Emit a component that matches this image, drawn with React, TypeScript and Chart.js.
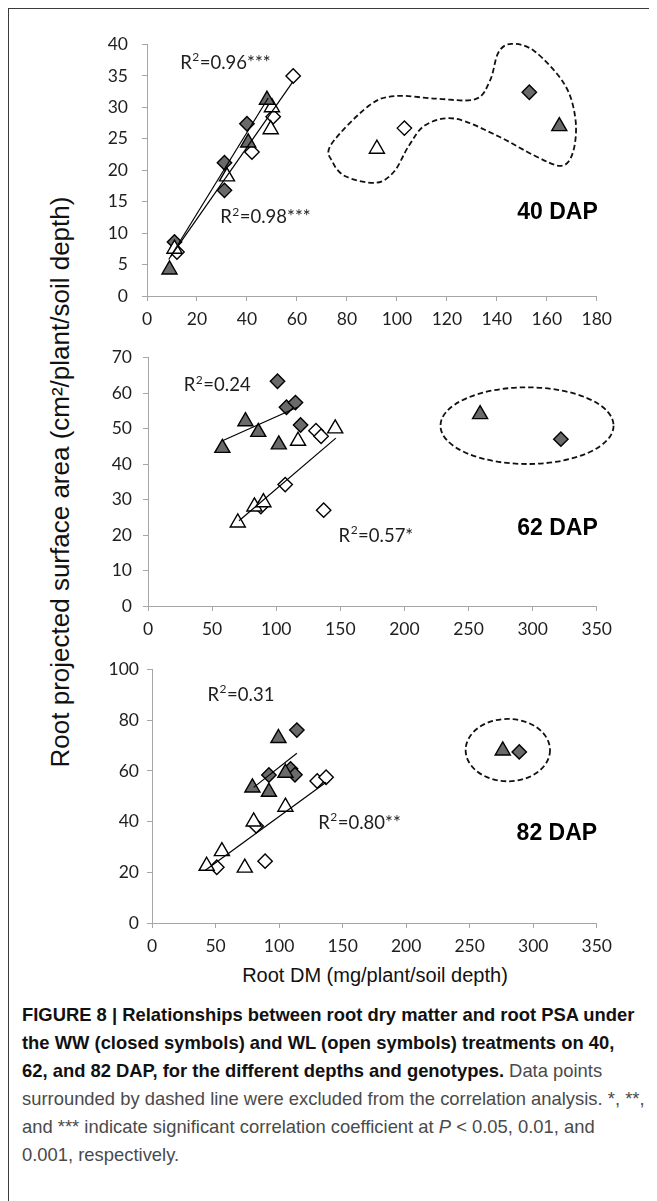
import React, { useEffect, useRef } from "react";
import { Chart, registerables } from "chart.js";

Chart.register(...registerables);

type Pt = { x: number; y: number };

// ---------- 40 DAP ----------
const dap40_wwTriangles: Pt[] = [
  { x: 9, y: 4.2 }, { x: 40.5, y: 24.4 }, { x: 48, y: 31.2 }, { x: 165, y: 27 },
];
const dap40_wwDiamonds: Pt[] = [
  { x: 11, y: 8.6 }, { x: 31, y: 16.8 }, { x: 31, y: 21.2 }, { x: 40, y: 27.4 }, { x: 153, y: 32.4 },
];
const dap40_wlTriangles: Pt[] = [
  { x: 11, y: 7.5 }, { x: 32, y: 19 }, { x: 50, y: 30 }, { x: 49.5, y: 26.5 }, { x: 92, y: 23.4 },
];
const dap40_wlDiamonds: Pt[] = [
  { x: 12, y: 7 }, { x: 42, y: 22.9 }, { x: 50.5, y: 28.5 }, { x: 58.5, y: 35 }, { x: 103, y: 26.7 },
];
const dap40_wwFit: Pt[] = [{ x: 8.7, y: 5.8 }, { x: 48.5, y: 31.5 }];
const dap40_wlFit: Pt[] = [{ x: 9.5, y: 6.3 }, { x: 58.4, y: 34.1 }];
const dap40_outline: number[][] = [
  [73.7, 24.1], [88.9, 30.3], [99.5, 31.8], [115.4, 31.4], [131.4, 31.3], [137.3, 34.3],
  [140.6, 38.7], [145.9, 40.1], [155.2, 38.9], [167.2, 33.6], [171.5, 28.0], [170.5, 22.9],
  [165.8, 20.7], [155.2, 22.3], [140.6, 25.4], [123.4, 28.2], [111.5, 27.2], [104.8, 23.9],
  [98.9, 19.8], [91.6, 18.0], [79.6, 19.0], [74.3, 21.3],
];
const dap40_r2Values = ["0.96***", "0.98***"];
const dap40_r2Anchors: Pt[] = [{ x: 13.3, y: 37.1 }, { x: 29.3, y: 12.5 }];

// ---------- 62 DAP ----------
const dap62_wwTriangles: Pt[] = [
  { x: 58, y: 44.5 }, { x: 76, y: 52 }, { x: 86, y: 49 }, { x: 102, y: 45.5 }, { x: 259, y: 54 },
];
const dap62_wwDiamonds: Pt[] = [
  { x: 101, y: 63.3 }, { x: 108, y: 56 }, { x: 115, y: 57.3 }, { x: 119, y: 51 }, { x: 322, y: 47 },
];
const dap62_wlTriangles: Pt[] = [
  { x: 70, y: 23.5 }, { x: 83, y: 28 }, { x: 90, y: 29.2 }, { x: 117, y: 46.5 }, { x: 146, y: 50 },
];
const dap62_wlDiamonds: Pt[] = [
  { x: 88, y: 28 }, { x: 107, y: 34.2 }, { x: 131, y: 49.4 }, { x: 135, y: 47.8 }, { x: 137, y: 27 },
];
const dap62_wwFit: Pt[] = [{ x: 58.5, y: 46.6 }, { x: 116.5, y: 56 }];
const dap62_wlFit: Pt[] = [{ x: 71, y: 24 }, { x: 146.5, y: 47.3 }];
const dap62_ellipse = [295.6, 50.8, 67.5, 10.8]; // cx, cy, rx, ry (data units)
const dap62_r2Values = ["0.24", "0.57*"];
const dap62_r2Anchors: Pt[] = [{ x: 27.9, y: 62.2 }, { x: 148.6, y: 19.7 }];

// ---------- 82 DAP ----------
const dap82_wwTriangles: Pt[] = [
  { x: 79, y: 53.4 }, { x: 92, y: 51.7 }, { x: 99.5, y: 72.9 }, { x: 105, y: 59.2 }, { x: 276, y: 68 },
];
const dap82_wwDiamonds: Pt[] = [
  { x: 92, y: 58.4 }, { x: 109, y: 60.8 }, { x: 112.5, y: 58.5 }, { x: 114, y: 76.1 }, { x: 289, y: 67.5 },
];
const dap82_wlTriangles: Pt[] = [
  { x: 43, y: 22.5 }, { x: 55, y: 28.3 }, { x: 73, y: 21.8 }, { x: 80, y: 40 }, { x: 105, y: 45.8 },
];
const dap82_wlDiamonds: Pt[] = [
  { x: 51, y: 22 }, { x: 82, y: 38.3 }, { x: 89, y: 24.4 }, { x: 130, y: 56 }, { x: 137, y: 57.5 },
];
const dap82_wwFit: Pt[] = [{ x: 80, y: 53.5 }, { x: 114, y: 67 }];
const dap82_wlFit: Pt[] = [{ x: 42, y: 20.8 }, { x: 137, y: 55.5 }];
const dap82_ellipse = [280, 68.2, 33.2, 12.3];
const dap82_r2Values = ["0.31", "0.80**"];
const dap82_r2Anchors: Pt[] = [{ x: 43.7, y: 90 }, { x: 130.8, y: 39.6 }];

const dapLabels = ["40 DAP", "62 DAP", "82 DAP"];
const dapLabelAnchors: Pt[] = [{ x: 180.4, y: 13.2 }, { x: 350.8, y: 21.8 }, { x: 350.3, y: 35.1 }];

const xAxisMax = [180, 350, 350];
const xAxisStep = [20, 50, 50];
const yAxisMax = [40, 70, 100];
const yAxisStep = [5, 10, 20];

const yTitle = "Root projected surface area (cm²/plant/soil depth)";
const xTitle = "Root DM (mg/plant/soil depth)";

interface PanelSpec {
  left: number; top: number; width: number; height: number;
  yAxisW: number; xAxisH: number; padTop: number; padRight: number; yLabelPad: number;
  xMax: number; xStep: number; yMax: number; yStep: number;
  wwTri: Pt[]; wwDia: Pt[]; wlTri: Pt[]; wlDia: Pt[]; wwFit: Pt[]; wlFit: Pt[];
  blob?: number[][]; ellipse?: number[];
  r2Values: string[]; r2Anchors: Pt[];
  dapText: string; dapAnchor: Pt;
}

const TICK_FONT = "Lato, 'Open Sans', sans-serif";
const AXIS_GRAY = "#a6a6a6";
const FILL_DARK = "#6a6a6a";

function closedSpline(ctx: CanvasRenderingContext2D, pts: number[][]) {
  const n = pts.length;
  ctx.moveTo(pts[0][0], pts[0][1]);
  for (let i = 0; i < n; i++) {
    const p0 = pts[(i - 1 + n) % n], p1 = pts[i], p2 = pts[(i + 1) % n], p3 = pts[(i + 2) % n];
    const t = 1 / 6;
    ctx.bezierCurveTo(
      p1[0] + (p2[0] - p0[0]) * t, p1[1] + (p2[1] - p0[1]) * t,
      p2[0] - (p3[0] - p1[0]) * t, p2[1] - (p3[1] - p1[1]) * t,
      p2[0], p2[1]
    );
  }
  ctx.closePath();
}

function makeOverlay(spec: PanelSpec) {
  return {
    id: "overlay",
    afterDatasetsDraw(chart: any) {
      const ctx: CanvasRenderingContext2D = chart.ctx;
      const xs = chart.scales.x, ys = chart.scales.y;
      ctx.save();
      ctx.strokeStyle = "#111";
      ctx.lineWidth = 1.8;
      ctx.setLineDash([5.5, 3]);
      if (spec.blob) {
        const px = spec.blob.map((p) => [xs.getPixelForValue(p[0]), ys.getPixelForValue(p[1])]);
        ctx.beginPath();
        closedSpline(ctx, px);
        ctx.stroke();
      }
      if (spec.ellipse) {
        const [cx, cy, rx, ry] = spec.ellipse;
        const pcx = xs.getPixelForValue(cx), pcy = ys.getPixelForValue(cy);
        const prx = Math.abs(xs.getPixelForValue(cx + rx) - pcx);
        const pry = Math.abs(ys.getPixelForValue(cy + ry) - pcy);
        ctx.beginPath();
        ctx.ellipse(pcx, pcy, prx, pry, 0, 0, Math.PI * 2);
        ctx.stroke();
      }
      ctx.setLineDash([]);
      // R² labels
      ctx.fillStyle = "#1e1e1e";
      ctx.textBaseline = "middle";
      ctx.textAlign = "left";
      spec.r2Values.forEach((val, i) => {
        const a = spec.r2Anchors[i];
        const px = xs.getPixelForValue(a.x), py = ys.getPixelForValue(a.y);
        ctx.font = `18.5px ${TICK_FONT}`;
        ctx.fillText("R", px, py);
        const w = ctx.measureText("R").width;
        ctx.font = `12px ${TICK_FONT}`;
        ctx.fillText("2", px + w + 0.5, py - 5.5);
        const w2 = ctx.measureText("2").width;
        ctx.font = `18.5px ${TICK_FONT}`;
        ctx.fillText("=" + val, px + w + w2 + 1, py);
      });
      // DAP label
      ctx.font = "bold 23px 'Liberation Sans', Arial, sans-serif";
      ctx.fillStyle = "#000";
      ctx.textAlign = "right";
      ctx.fillText(spec.dapText, xs.getPixelForValue(spec.dapAnchor.x), ys.getPixelForValue(spec.dapAnchor.y));
      ctx.restore();
    },
  };
}

function markerSet(data: Pt[], style: string, filled: boolean, radius: number) {
  return {
    data,
    showLine: false,
    pointStyle: style,
    pointRadius: radius,
    pointBackgroundColor: filled ? FILL_DARK : "#ffffff",
    pointBorderColor: "#000",
    pointBorderWidth: 1.4,
    clip: false as any,
  };
}

function fitSet(data: Pt[]) {
  return {
    data,
    showLine: true,
    pointRadius: 0,
    borderColor: "#000",
    borderWidth: 1.2,
    fill: false,
  };
}

function Panel({ spec }: { spec: PanelSpec }) {
  const ref = useRef<HTMLCanvasElement>(null);
  useEffect(() => {
    if (!ref.current) return;
    const chart = new Chart(ref.current, {
      type: "scatter",
      data: {
        datasets: [
          fitSet(spec.wwFit),
          fitSet(spec.wlFit),
          markerSet(spec.wwTri, "triangle", true, 8.7),
          markerSet(spec.wlTri, "triangle", false, 8.7),
          markerSet(spec.wwDia, "rectRot", true, 7.2),
          markerSet(spec.wlDia, "rectRot", false, 7.2),
        ] as any,
      },
      options: {
        animation: false,
        responsive: false,
        maintainAspectRatio: false,
        events: [],
        layout: { padding: { top: spec.padTop, right: spec.padRight, left: 0, bottom: 0 } },
        plugins: { legend: { display: false }, tooltip: { enabled: false } },
        scales: {
          x: {
            type: "linear",
            min: 0,
            max: spec.xMax,
            ticks: {
              stepSize: spec.xStep,
              color: "#1f1f1f",
              font: { family: TICK_FONT, size: 17.5 },
              padding: 8,
              maxRotation: 0,
              autoSkip: false,
            },
            grid: { drawOnChartArea: false, drawTicks: true, tickLength: 5, color: AXIS_GRAY, lineWidth: 1 },
            border: { color: AXIS_GRAY, width: 1 },
            afterFit: (s: any) => { s.height = spec.xAxisH; },
          },
          y: {
            type: "linear",
            min: 0,
            max: spec.yMax,
            ticks: {
              stepSize: spec.yStep,
              color: "#1f1f1f",
              font: { family: TICK_FONT, size: 17.5 },
              padding: spec.yLabelPad,
            },
            grid: { drawOnChartArea: false, drawTicks: true, tickLength: 5, color: AXIS_GRAY, lineWidth: 1 },
            border: { color: AXIS_GRAY, width: 1 },
            afterFit: (s: any) => { s.width = spec.yAxisW; },
          },
        },
      } as any,
      plugins: [makeOverlay(spec)],
    });
    return () => chart.destroy();
  }, [spec]);
  return (
    <canvas
      ref={ref}
      width={spec.width}
      height={spec.height}
      style={{ position: "absolute", left: spec.left, top: spec.top, width: spec.width, height: spec.height }}
    />
  );
}

// page offset of absolutely positioned children (body margin 8 + 1px border)
const OFF = 9;

const panels: PanelSpec[] = [
  {
    left: 90 - OFF, top: 20 - OFF, width: 530, height: 320,
    yAxisW: 57, xAxisH: 44, padTop: 15, padRight: 21, yLabelPad: 14,
    xMax: xAxisMax[0], xStep: xAxisStep[0], yMax: yAxisMax[0], yStep: yAxisStep[0],
    wwTri: dap40_wwTriangles, wwDia: dap40_wwDiamonds, wlTri: dap40_wlTriangles, wlDia: dap40_wlDiamonds,
    wwFit: dap40_wwFit, wlFit: dap40_wlFit, blob: dap40_outline,
    r2Values: dap40_r2Values, r2Anchors: dap40_r2Anchors,
    dapText: dapLabels[0], dapAnchor: dapLabelAnchors[0],
  },
  {
    left: 90 - OFF, top: 336 - OFF, width: 530, height: 310,
    yAxisW: 58, xAxisH: 40, padTop: 15, padRight: 23, yLabelPad: 11,
    xMax: xAxisMax[1], xStep: xAxisStep[1], yMax: yAxisMax[1], yStep: yAxisStep[1],
    wwTri: dap62_wwTriangles, wwDia: dap62_wwDiamonds, wlTri: dap62_wlTriangles, wlDia: dap62_wlDiamonds,
    wwFit: dap62_wwFit, wlFit: dap62_wlFit, ellipse: dap62_ellipse,
    r2Values: dap62_r2Values, r2Anchors: dap62_r2Anchors,
    dapText: dapLabels[1], dapAnchor: dapLabelAnchors[1],
  },
  {
    left: 90 - OFF, top: 651 - OFF, width: 530, height: 310,
    yAxisW: 62, xAxisH: 38, padTop: 15, padRight: 20, yLabelPad: 8,
    xMax: xAxisMax[2], xStep: xAxisStep[2], yMax: yAxisMax[2], yStep: yAxisStep[2],
    wwTri: dap82_wwTriangles, wwDia: dap82_wwDiamonds, wlTri: dap82_wlTriangles, wlDia: dap82_wlDiamonds,
    wwFit: dap82_wwFit, wlFit: dap82_wlFit, ellipse: dap82_ellipse,
    r2Values: dap82_r2Values, r2Anchors: dap82_r2Anchors,
    dapText: dapLabels[2], dapAnchor: dapLabelAnchors[2],
  },
];

const captionBold: React.CSSProperties = { fontWeight: 700, color: "#111" };

export default function App() {
  return (
    <div
      style={{
        position: "relative",
        width: 649,
        height: 1193,
        boxSizing: "border-box",
        borderTop: "1px solid #3a3a3a",
        borderLeft: "1px solid #3a3a3a",
        fontFamily: "'Liberation Sans', Arial, sans-serif",
        background: "#fff",
      }}
    >
      {panels.map((p, i) => (
        <Panel key={i} spec={p} />
      ))}
      <div
        style={{
          position: "absolute",
          left: 60 - OFF - 350,
          top: 482 - OFF - 16,
          width: 700,
          height: 32,
          lineHeight: "32px",
          textAlign: "center",
          whiteSpace: "nowrap",
          fontSize: 26,
          color: "#111",
          transform: "rotate(-90deg)",
          transformOrigin: "50% 50%",
        }}
      >
        {yTitle}
      </div>
      <div
        style={{
          position: "absolute",
          left: 375 - OFF - 300,
          top: 975 - OFF - 14,
          width: 600,
          height: 28,
          lineHeight: "28px",
          textAlign: "center",
          whiteSpace: "nowrap",
          fontSize: 20,
          color: "#111",
        }}
      >
        {xTitle}
      </div>
      <div
        style={{
          position: "absolute",
          left: 22 - OFF,
          top: 1001 - OFF,
          width: 625,
          fontSize: 18.4,
          lineHeight: "28px",
          color: "#4a4a4a",
          whiteSpace: "nowrap",
        }}
      >
        <div><span style={captionBold}>FIGURE 8 | Relationships between root dry matter and root PSA under</span></div>
        <div><span style={captionBold}>the WW (closed symbols) and WL (open symbols) treatments on 40,</span></div>
        <div><span style={captionBold}>62, and 82 DAP, for the different depths and genotypes.</span> Data points</div>
        <div>surrounded by dashed line were excluded from the correlation analysis. *, **,</div>
        <div>and *** indicate significant correlation coefficient at <i>P</i> &lt; 0.05, 0.01, and</div>
        <div>0.001, respectively.</div>
      </div>
    </div>
  );
}
